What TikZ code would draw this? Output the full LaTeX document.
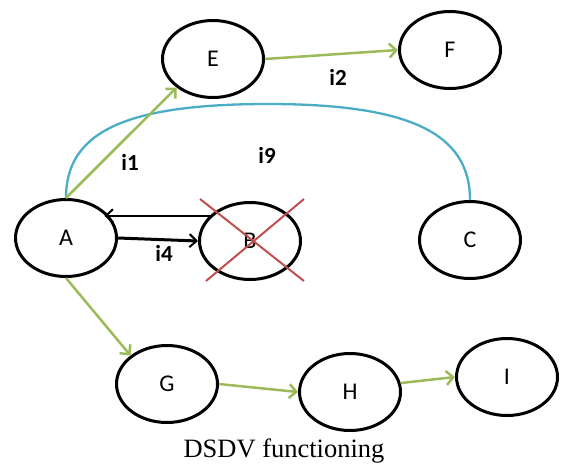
\documentclass[tikz,border=0pt]{standalone}
\usepackage{fontspec}
\setmainfont{Liberation Serif}
\newfontfamily\calibri{Carlito}
\usetikzlibrary{shapes.geometric,arrows.meta,calc}

\definecolor{linkgreen}{HTML}{9BBB59}
\definecolor{linkblue}{HTML}{4BACC6}
\definecolor{crossred}{HTML}{C0504D}

\tikzset{
  station/.style={ellipse, draw=black, line width=3pt, minimum width=101pt,
    minimum height=77pt, inner sep=0pt, font=\calibri\fontsize{24}{24}\selectfont},
  hoplabel/.style={font=\calibri\bfseries\fontsize{23}{23}\selectfont, inner sep=0pt},
  route/.style={draw=linkgreen, line width=2.5pt,
    -{Straight Barb[length=7pt,width=14pt,line width=2.5pt]}},
  update/.style={draw=black, line width=2pt,
    -{Straight Barb[length=7pt,width=13pt,line width=2pt]}},
  wideupdate/.style={update, line width=3pt},
  broken/.style={draw=crossred, line width=2pt},
  longlink/.style={draw=linkblue, line width=2.3pt}
}

\begin{document}
\begin{tikzpicture}[x=1pt, y=-1pt]
  \useasboundingbox (0,0) rectangle (561,463);

  % stations
  \node[station] (E) at (213,59)  {E};
  \node[station] (F) at (450,50)  {F};
  \node[station] (A) at (66,238)  {A};
  \node[station] (B) at (250,241) {B};
  \node[station] (C) at (470,240) {C};
  \node[station] (G) at (167,384) {G};
  \node[station] (H) at (350,392) {H};
  \node[station] (I) at (507,377) {I};

  % long link from A over the top to C
  \coordinate (arcTop) at ($(A.north)!0.5!(C.north)+(0,-95)$);
  \draw[longlink] (A.north) .. controls +(0,-66) and +(-143,0) .. (arcTop)
                            .. controls +(143,0) and +(0,-66) .. (C.north);

  % green routes
  \draw[route] (A.north) -- (E.218);
  \draw[route] (E.east) -- (F.west);
  \draw[route] (A.south) -- (G.142);
  \draw[route] (G.east) -- (H.west);
  \draw[route] (H.10) -- (I.west);

  % updates between A and B
  \draw[update] (B.148) -- (A.35 |- B.148);
  \draw[wideupdate] (A.east) -- (B.west);

  % B is down
  \draw[broken] ($(B.north -| B.west)+(2,-2)$) -- ($(B.south -| B.east)+(2,0)$);
  \draw[broken] ($(B.north -| B.east)+(2,-2)$) -- ($(B.south -| B.west)+(8,0)$);

  % hop labels
  \node[hoplabel] (l1) at (130,162) {i1};
  \node[hoplabel] (l2) at (338,77)  {i2};
  \node[hoplabel] (l9) at (267,155) {i9};
  \node[hoplabel] (l4) at (164,253) {i4};

  % caption
  \node[anchor=base, inner sep=0pt, font=\fontsize{26.5}{26.5}\selectfont] (cap) at (284,457) {DSDV functioning};
\end{tikzpicture}
\end{document}
